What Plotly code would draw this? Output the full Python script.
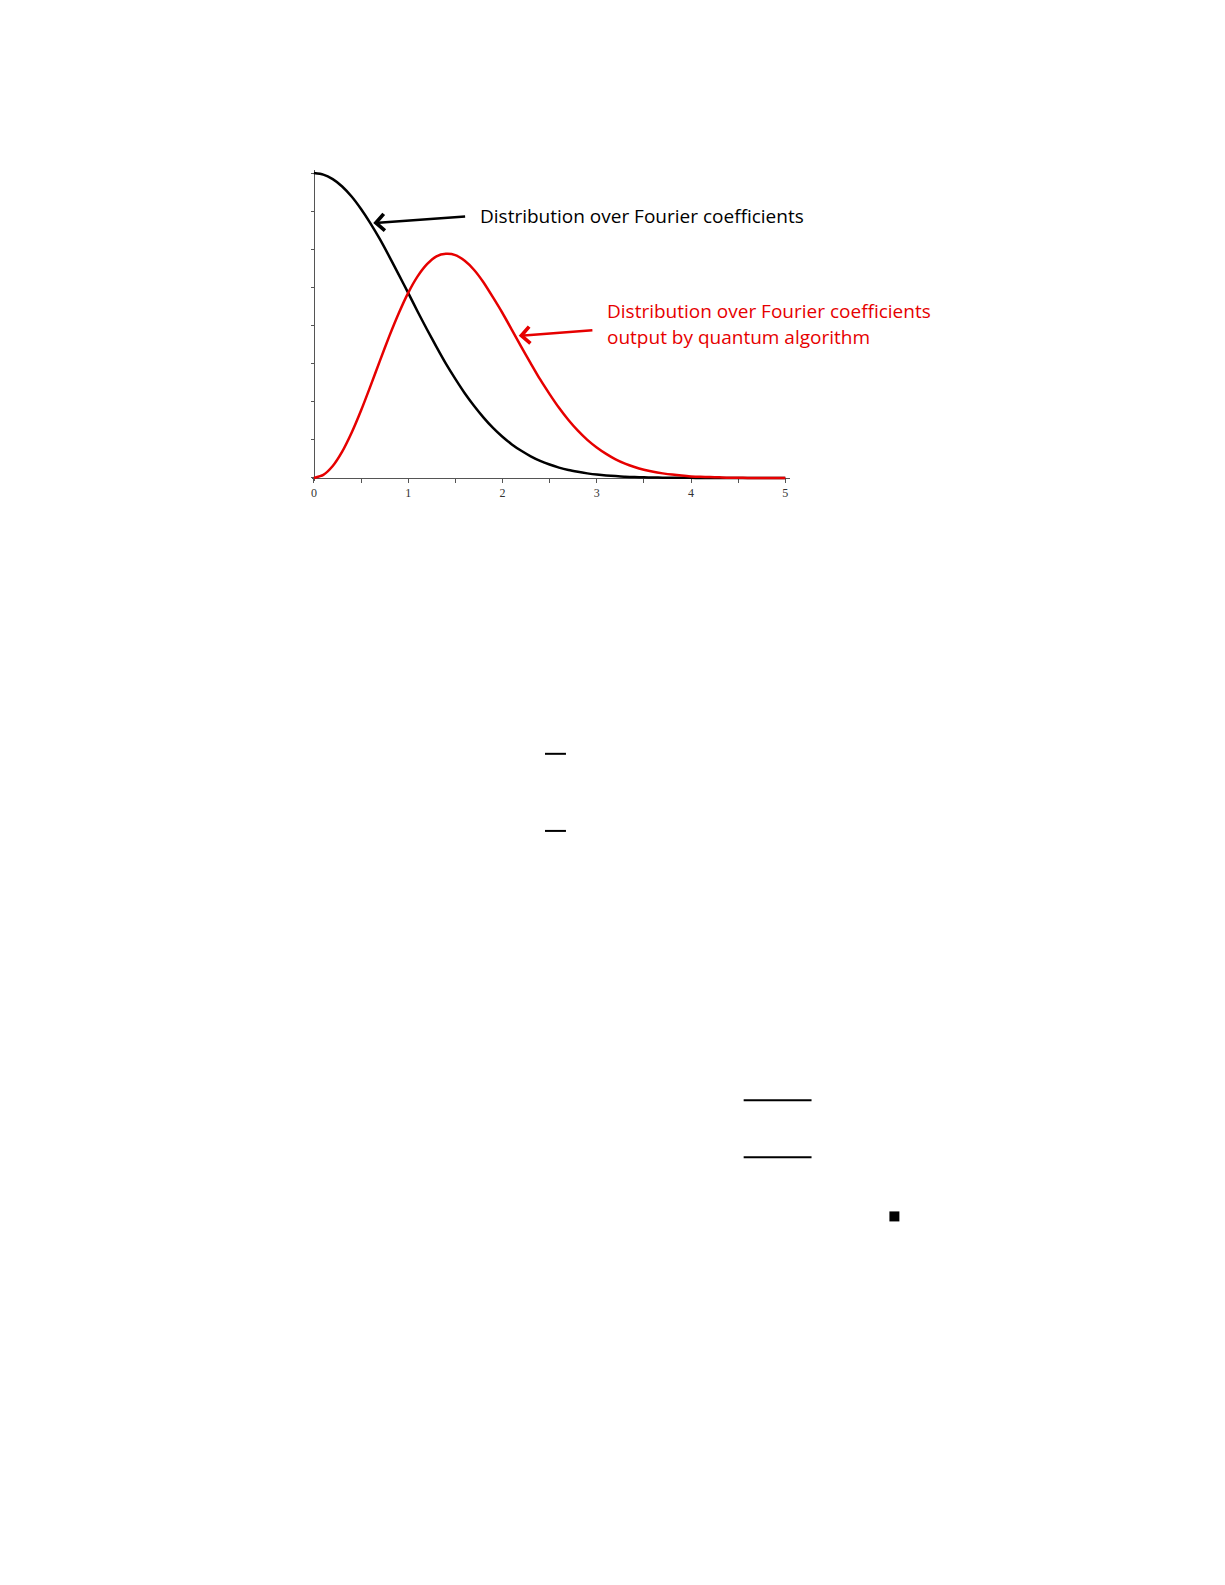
import plotly.graph_objects as go

# Curves (x step 0.1)
x_vals = [round(i * 0.1, 1) for i in range(51)]
fourier_dist = [1.000, 0.995, 0.980, 0.956, 0.923, 0.882, 0.835, 0.783, 0.726, 0.667,
                0.607, 0.546, 0.487, 0.430, 0.375, 0.325, 0.278, 0.236, 0.198, 0.164,
                0.135, 0.110, 0.089, 0.071, 0.056, 0.044, 0.034, 0.026, 0.020, 0.015,
                0.011, 0.008, 0.006, 0.004, 0.003, 0.002, 0.0015, 0.001, 0.0007, 0.0005,
                0.0003, 0.0, 0.0, 0.0, 0.0, 0.0, 0.0, 0.0, 0.0, 0.0, 0.0]
quantum_dist = [0.000, 0.010, 0.039, 0.086, 0.148, 0.221, 0.301, 0.384, 0.465, 0.540,
                0.607, 0.661, 0.701, 0.727, 0.735, 0.731, 0.712, 0.682, 0.641, 0.592,
                0.541, 0.486, 0.430, 0.376, 0.323, 0.275, 0.230, 0.190, 0.155, 0.125,
                0.100, 0.079, 0.061, 0.047, 0.036, 0.027, 0.020, 0.015, 0.011, 0.008,
                0.005, 0.004, 0.003, 0.002, 0.001, 0.001, 0.0, 0.0, 0.0, 0.0, 0.0]

x_tickvals = [0, 0.5, 1, 1.5, 2, 2.5, 3, 3.5, 4, 4.5, 5]
x_ticktext = ["0", "", "1", "", "2", "", "3", "", "4", "", "5"]
y_tickvals = [0, 0.125, 0.25, 0.375, 0.5, 0.625, 0.75, 0.875, 1]

black_label = "Distribution over Fourier coefficients"
red_label_1 = "Distribution over Fourier coefficients"
red_label_2 = "output by quantum algorithm"

W, H = 1225, 1585
X_RANGE = [-0.02, 5.05]
Y_RANGE = [-0.01, 1.01]
# pixel frame of the plot area
PX_PER_X = 94.44
PX_PER_Y = 304.5
X0_PX, Y0_PX = 305.5, 469.5
left = X0_PX + X_RANGE[0] * PX_PER_X
right = X0_PX + X_RANGE[1] * PX_PER_X
top = Y0_PX - Y_RANGE[1] * PX_PER_Y
bottom = Y0_PX - Y_RANGE[0] * PX_PER_Y
plot_w, plot_h = right - left, bottom - top


def paper_x(px):
    return (px - left) / plot_w


def paper_y(py):
    return (bottom - py) / plot_h


AXIS_COLOR = "#555555"
RED = "#e60000"
TEXT_FONT = "Open Sans"

fig = go.Figure()
fig.add_trace(go.Scatter(x=x_vals, y=fourier_dist, mode="lines",
                         line=dict(color="black", width=2.5, shape="spline", smoothing=0.6)))
fig.add_trace(go.Scatter(x=x_vals, y=quantum_dist, mode="lines",
                         line=dict(color=RED, width=2.5, shape="spline", smoothing=0.6)))

x_pos = -X_RANGE[0] / (X_RANGE[1] - X_RANGE[0])
y_pos = -Y_RANGE[0] / (Y_RANGE[1] - Y_RANGE[0])

common_x = dict(range=X_RANGE, showgrid=False, zeroline=False, showline=True,
                linecolor=AXIS_COLOR, linewidth=1.2, tickvals=x_tickvals,
                tickcolor=AXIS_COLOR, tickwidth=1.2, ticklen=4,
                anchor="free", position=y_pos, layer="below traces")
common_y = dict(range=Y_RANGE, showgrid=False, zeroline=False, showline=True,
                linecolor=AXIS_COLOR, linewidth=1.2, tickvals=y_tickvals,
                tickcolor=AXIS_COLOR, tickwidth=1.2, ticklen=3,
                anchor="free", position=x_pos, layer="below traces",
                showticklabels=False)

fig.update_layout(
    width=W, height=H,
    margin=dict(l=left, r=W - right, t=top, b=H - bottom, pad=0),
    paper_bgcolor="white", plot_bgcolor="white",
    showlegend=False,
    xaxis=dict(**common_x, ticks="outside", ticktext=x_ticktext,
               tickfont=dict(family="Liberation Serif", size=12, color="#333333")),
    yaxis=dict(**common_y, ticks="outside"),
    # overlaid copies give the ticks that cross the axis lines
    xaxis2=dict(**common_x, ticks="inside", overlaying="x", showticklabels=False),
    yaxis2=dict(**common_y, ticks="inside", overlaying="y"),
)

# arrows and labels
fig.add_annotation(x=0.63, y=0.836, ax=1.62, ay=0.858, xref="x", yref="y",
                   axref="x", ayref="y", text="", showarrow=True,
                   arrowhead=4, arrowsize=1.3, arrowwidth=2.5, arrowcolor="black")
fig.add_annotation(x=1.742, y=0.859, xref="x", yref="y", text=black_label,
                   showarrow=False, xanchor="left", yanchor="middle",
                   font=dict(family=TEXT_FONT, size=19, color="black"))
fig.add_annotation(x=2.173, y=0.466, ax=2.97, ay=0.485, xref="x", yref="y",
                   axref="x", ayref="y", text="", showarrow=True,
                   arrowhead=4, arrowsize=1.3, arrowwidth=2.5, arrowcolor=RED)
for label, y_val in [(red_label_1, 0.547), (red_label_2, 0.461)]:
    fig.add_annotation(x=3.087, y=y_val, xref="x", yref="y", text=label,
                       showarrow=False, xanchor="left", yanchor="middle",
                       font=dict(family=TEXT_FONT, size=19, color=RED))

# stray page marks below the chart (fraction bars, end-of-proof box, page edge)
for x_a, x_b, y_px in [(537, 558, 745), (537, 558, 822), (736, 804, 1091), (736, 804, 1148)]:
    fig.add_shape(type="line", xref="paper", yref="paper",
                  x0=paper_x(x_a), x1=paper_x(x_b), y0=paper_y(y_px), y1=paper_y(y_px),
                  line=dict(color="black", width=2))
fig.add_shape(type="rect", xref="paper", yref="paper",
              x0=paper_x(882), x1=paper_x(892), y0=paper_y(1212), y1=paper_y(1202),
              fillcolor="black", line=dict(width=0))
fig.add_shape(type="line", xref="paper", yref="paper",
              x0=paper_x(0), x1=paper_x(W), y0=paper_y(1584), y1=paper_y(1584),
              line=dict(color="#333333", width=1.5, dash="dot"))

fig.write_html("out.html")
